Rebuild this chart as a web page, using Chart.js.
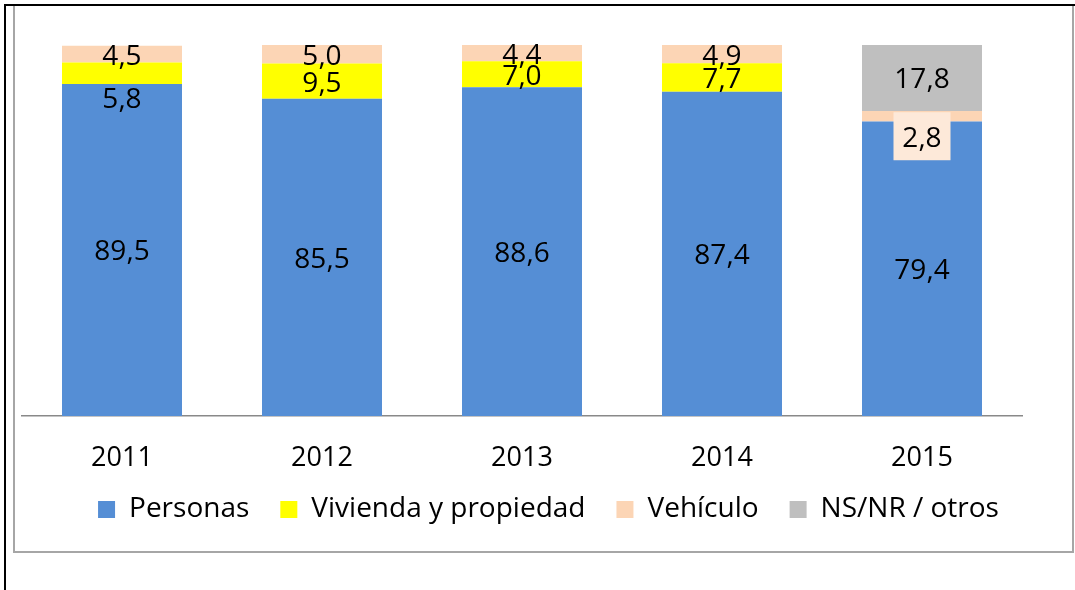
<!DOCTYPE html>
<html>
<head>
<meta charset="utf-8">
<script src="https://cdn.jsdelivr.net/npm/chart.js@4"></script>
<style>
  html, body { margin: 0; padding: 0; background: #fff; }
  body { width: 1075px; height: 590px; position: relative; overflow: hidden; }
  #blackTop { position: absolute; left: 4px; top: 4px; width: 1071px; height: 2px; background: #000; }
  #blackLeft { position: absolute; left: 4px; top: 4px; width: 2px; height: 586px; background: #000; }
  #frame { position: absolute; left: 13px; top: 5px; width: 1061px; height: 548px; box-sizing: border-box; border: 2px solid #a6a6a6; border-top: none; }
  #wrap { position: absolute; left: 0; top: 0; width: 1075px; height: 590px; }
</style>
</head>
<body>
<div id="frame"></div>
<div id="blackTop"></div>
<div id="blackLeft"></div>
<div id="wrap"><canvas id="c" width="1075" height="590"></canvas></div>
<script>
const categories = ['2011', '2012', '2013', '2014', '2015'];
const personas = [89.5, 85.5, 88.6, 87.4, 79.4];
const vivienda = [5.8, 9.5, 7.0, 7.7, 0];
const vehiculo = [4.5, 5.0, 4.4, 4.9, 2.8];
const otros = [0, 0, 0, 0, 17.8];
const seriesNames = ['Personas', 'Vivienda y propiedad', 'Vehículo', 'NS/NR / otros'];

const FONT = '"Open Sans", "Noto Sans", sans-serif';

const valueLabels = {
  id: 'valueLabels',
  afterDatasetsDraw(chart, args, opts) {
    const ctx = chart.ctx;
    ctx.save();
    ctx.font = '28px ' + FONT;
    ctx.textAlign = 'center';
    ctx.textBaseline = 'middle';
    chart.data.datasets.forEach((ds, di) => {
      const meta = chart.getDatasetMeta(di);
      meta.data.forEach((bar, i) => {
        const v = ds.data[i];
        if (!v) return;
        const key = di + '-' + i;
        const dy = (opts.offsets && opts.offsets[key]) || 0;
        const x = bar.x;
        const y = (bar.y + bar.base) / 2 + dy;
        const box = opts.boxes && opts.boxes[key];
        if (box) {
          ctx.fillStyle = box.color;
          ctx.fillRect(x - box.w / 2, y - box.h / 2, box.w, box.h);
        }
        ctx.fillStyle = '#000';
        ctx.fillText(v.toFixed(1).replace('.', ','), x, y + (opts.baselineShift || 0));
      });
    });
    ctx.restore();
  }
};

// move the legend up a little after layout (keeps its inner padding for item spacing)
const legendShift = {
  id: 'legendShift',
  afterLayout(chart, args, opts) {
    const lg = chart.legend;
    if (!lg) return;
    lg.top += opts.dy;
    lg.bottom += opts.dy;
    if (lg.legendHitBoxes) lg.legendHitBoxes.forEach(h => { h.top += opts.dy; });
  }
};

new Chart(document.getElementById('c'), {
  type: 'bar',
  data: {
    labels: categories,
    datasets: [
      { label: seriesNames[0], data: personas, backgroundColor: '#558ED5' },
      { label: seriesNames[1], data: vivienda, backgroundColor: '#FFFF00' },
      { label: seriesNames[2], data: vehiculo, backgroundColor: '#FCD5B5' },
      { label: seriesNames[3], data: otros, backgroundColor: '#BFBFBF' }
    ]
  },
  options: {
    responsive: false,
    animation: false,
    devicePixelRatio: 1,
    datasets: { bar: { barPercentage: 0.6, categoryPercentage: 1.0, borderWidth: 0 } },
    layout: { padding: { top: 45, left: 22, right: 0, bottom: 35 } },
    scales: {
      x: {
        stacked: true,
        grid: { display: false, drawTicks: false },
        border: { display: true, color: '#898989', width: 1.5 },
        ticks: { color: '#000', font: { family: FONT, size: 27 }, padding: 26 },
        afterFit(scale) { scale.height = 70; }
      },
      y: {
        stacked: true,
        position: 'right',
        min: 0,
        max: 100,
        grid: { display: false, drawTicks: false },
        border: { display: false },
        ticks: { display: false },
        afterFit(scale) { scale.width = 53; }
      }
    },
    plugins: {
      legend: {
        position: 'bottom',
        labels: {
          color: '#000',
          font: { family: FONT, size: 28 },
          boxWidth: 17,
          boxHeight: 17,
          padding: 31
        }
      },
      tooltip: { enabled: false },
      legendShift: { dy: -21.5 },
      valueLabels: {
        baselineShift: 2.5,
        offsets: { '1-0': 24, '2-4': 20 },
        boxes: { '2-4': { w: 57, h: 48, color: '#FDE9D9' } }
      }
    }
  },
  plugins: [valueLabels, legendShift]
});
</script>
</body>
</html>
